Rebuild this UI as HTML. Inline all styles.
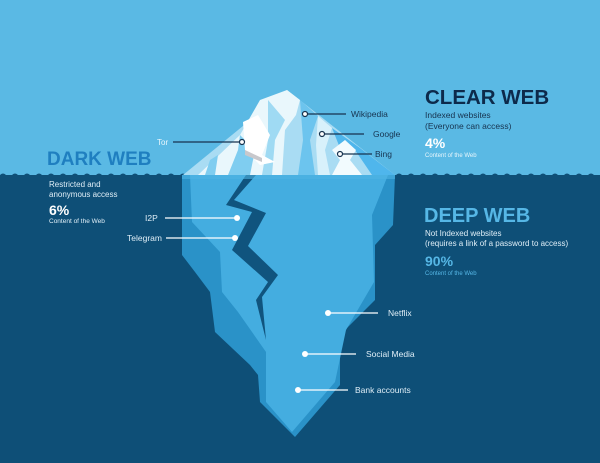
<!DOCTYPE html>
<html><head><meta charset="utf-8"><style>
html,body{margin:0;padding:0;width:600px;height:463px;overflow:hidden;background:#0e4f77}
svg{display:block}
text{font-family:"Liberation Sans",sans-serif}
</style></head><body>
<svg width="600" height="463" viewBox="0 0 600 463" xmlns="http://www.w3.org/2000/svg">
<defs>
<pattern id="wv" x="0" y="170" width="12" height="8" patternUnits="userSpaceOnUse">
<path d="M0,5 Q3,2 6,5 T12,5 V8 H0Z" fill="#0e4f77"/>
</pattern>
</defs>
<rect width="600" height="463" fill="#0e4f77"/>
<rect width="600" height="175" fill="#5ab9e4"/>
<rect x="0" y="170" width="600" height="8" fill="url(#wv)"/>
<!-- underwater iceberg -->
<polygon points="182,175 395,175 393,225 375,245 375,300 340,335 340,385 295,437 260,402 258,375 250,365 215,332 210,292 195,272 182,255" fill="#2a92c8"/>
<polygon points="190,175 388,175 372,215 374,282 346,330 335,382 292,432 266,402 266,352 238,312 222,292 220,252 192,222" fill="#44ade0"/>
<polygon points="246,175 226,205 252,212 232,250 268,282 256,300 266,340 262,297 278,275 248,246 266,213 234,200 256,175" fill="#10547e"/>
<rect x="182" y="175" width="213" height="4" fill="#4fb4e2" opacity="0.6"/>
<!-- tip -->
<polygon points="287,90 395,175 183,175" fill="#a9dcf3"/>
<polygon points="287,90 300,100 296,115 285,130 282,175 198,175 240,135 260,100" fill="#e9f7fc"/>
<polygon points="300,100 318,116 310,140 315,175 298,175 303,140" fill="#6cc4ee"/>
<polygon points="318,116 332,128 325,150 330,175 318,175 316,145" fill="#d8f1fb"/>
<polygon points="240,135 255,150 250,175 228,175 238,150" fill="#7fcdf0"/>
<polygon points="210,160 218,155 215,175 205,175" fill="#7fcdf0"/>
<polygon points="268,100 285,120 275,140 272,175 262,175 268,140" fill="#7fcdf0" opacity="0.7"/>
<polygon points="243,122 258,115 270,135 262,155 275,162 260,165 245,150" fill="#ffffff"/>
<polygon points="245,150 262,158 262,162 245,155" fill="#c8c8cc"/>
<polygon points="332,128 360,148 395,175 372,175 355,150 340,148" fill="#4fb6ec"/>
<polygon points="332,150 345,140 356,150 350,160 362,175 332,175 340,160" fill="#f2fbfe"/>
<!-- labels lines -->
<g stroke="#17334f" stroke-width="1.2" fill="none">
<line x1="173" y1="142" x2="241" y2="142"/>
<line x1="306" y1="114" x2="346" y2="114"/>
<line x1="323" y1="134" x2="364" y2="134"/>
<line x1="340" y1="154" x2="372" y2="154"/>
</g>
<g fill="#fff" stroke="#17334f" stroke-width="1.2">
<circle cx="242" cy="142" r="2.5"/><circle cx="305" cy="114" r="2.5"/><circle cx="322" cy="134" r="2.5"/><circle cx="340" cy="154" r="2.5"/>
</g>
<g stroke="#fff" stroke-width="1.2">
<line x1="165" y1="218" x2="237" y2="218"/>
<line x1="166" y1="238" x2="235" y2="238"/>
<line x1="328" y1="313" x2="378" y2="313"/>
<line x1="305" y1="354" x2="356" y2="354"/>
<line x1="298" y1="390" x2="348" y2="390"/>
</g>
<g fill="#fff"><circle cx="237" cy="218" r="3"/><circle cx="235" cy="238" r="3"/><circle cx="328" cy="313" r="3"/><circle cx="305" cy="354" r="3"/><circle cx="298" cy="390" r="3"/></g>
<g font-size="8.5" fill="#17334f">
<text x="351" y="117">Wikipedia</text><text x="373" y="137">Google</text><text x="375" y="157">Bing</text>
</g>
<text x="157" y="145" font-size="8" fill="#e8f6fc">Tor</text>
<g font-size="8.5" fill="#dfeef7">
<text x="145" y="221">I2P</text><text x="127" y="241">Telegram</text>
<text x="388" y="316">Netflix</text><text x="366" y="357">Social Media</text><text x="355" y="393">Bank accounts</text>
</g>
<text x="425" y="104" font-size="20.5" font-weight="bold" fill="#0d2a4b">CLEAR WEB</text>
<text x="425" y="118" font-size="8.5" fill="#17334f">Indexed websites</text>
<text x="425" y="129" font-size="8.5" fill="#17334f">(Everyone can access)</text>
<text x="425" y="148" font-size="14" font-weight="bold" fill="#fff">4%</text>
<text x="425" y="157" font-size="6" fill="#e8f6fc">Content of the Web</text>
<text x="47" y="165" font-size="19" font-weight="bold" fill="#1f7fc0">DARK WEB</text>
<text x="49" y="187" font-size="8" fill="#dfeef7">Restricted and</text>
<text x="49" y="197" font-size="8" fill="#dfeef7">anonymous access</text>
<text x="49" y="215" font-size="14" font-weight="bold" fill="#fff">6%</text>
<text x="49" y="223" font-size="6.5" fill="#dfeef7">Content of the Web</text>
<text x="424" y="222" font-size="20" font-weight="bold" fill="#56b7e6">DEEP WEB</text>
<text x="425" y="236" font-size="8" fill="#dfeef7">Not Indexed websites</text>
<text x="425" y="246" font-size="8" fill="#dfeef7">(requires a link of a password to access)</text>
<text x="425" y="266" font-size="14" font-weight="bold" fill="#56b7e6">90%</text>
<text x="425" y="275" font-size="6" fill="#56b7e6">Content of the Web</text>
</svg>
</body></html>
